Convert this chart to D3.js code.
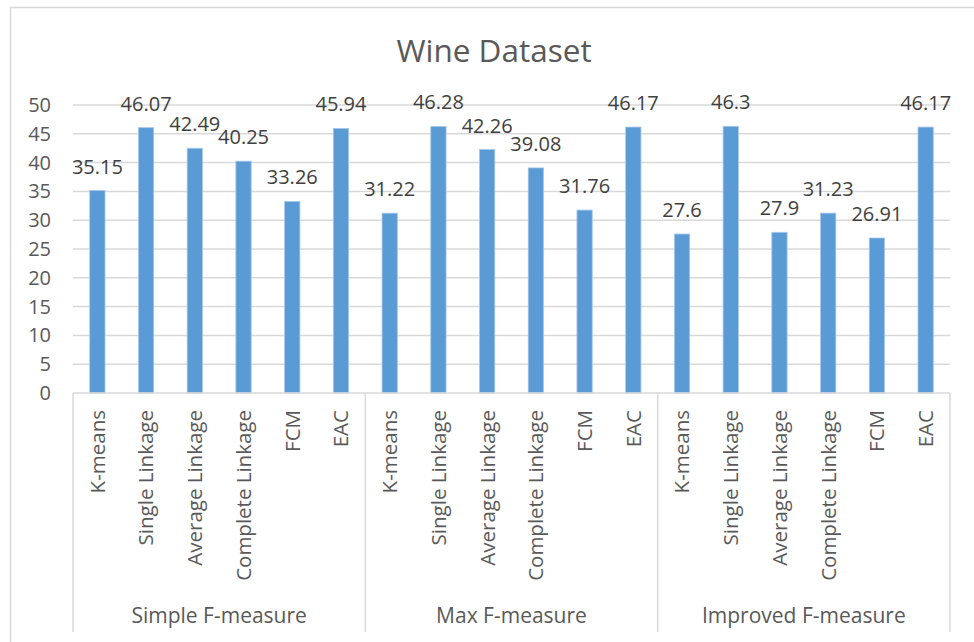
<!DOCTYPE html>
<html>
<head>
<meta charset="utf-8">
<script src="https://cdn.jsdelivr.net/npm/d3@7"></script>
<style>
  body { margin: 0; background: #fff; }
  text { font-family: "Open Sans", "Noto Sans", sans-serif; }
</style>
</head>
<body>
<div id="chart"></div>
<script>
// Wine Dataset - F-measure of clustering methods

var groups = ["Simple F-measure", "Max F-measure", "Improved F-measure"];
var methods = ["K-means", "Single Linkage", "Average Linkage", "Complete Linkage", "FCM", "EAC"];
var simpleF = [35.15, 46.07, 42.49, 40.25, 33.26, 45.94];
var maxF = [31.22, 46.28, 42.26, 39.08, 31.76, 46.17];
var improvedF = [27.6, 46.3, 27.9, 31.23, 26.91, 46.17];
var yTicks = [0, 5, 10, 15, 20, 25, 30, 35, 40, 45, 50];

var svgWidth = 974;
var svgHeight = 642;

var margin = { top: 105, right: 24, bottom: 249, left: 73 };
var width = svgWidth - margin.left - margin.right;
var height = svgHeight - margin.top - margin.bottom;

// flatten into one row per bar
var seriesByGroup = [simpleF, maxF, improvedF];
var data = [];
groups.forEach(function(g, gi) {
  methods.forEach(function(m, mi) {
    data.push({ key: gi + "-" + mi, group: g, method: m, value: seriesByGroup[gi][mi] });
  });
});

var svg = d3.select("#chart")
  .append("svg")
  .attr("width", svgWidth)
  .attr("height", svgHeight);

// chart border
svg.append("rect")
  .attr("x", 10.5)
  .attr("y", 7.5)
  .attr("width", 990)
  .attr("height", 660)
  .attr("fill", "none")
  .attr("stroke", "#d9d9d9")
  .attr("stroke-width", 1.5);

// title
svg.append("text")
  .attr("x", 494)
  .attr("y", 62)
  .attr("text-anchor", "middle")
  .attr("font-size", "31.5px")
  .attr("fill", "#595959")
  .text("Wine Dataset");

var chartGroup = svg.append("g")
  .attr("transform", `translate(${margin.left}, ${margin.top})`);

// scales
var xScale = d3.scaleBand()
  .domain(data.map(d => d.key))
  .range([0, width])
  .paddingInner(0.686)
  .paddingOuter(0.343);

var yScale = d3.scaleLinear()
  .domain([0, 50])
  .range([height, 0]);

var groupScale = d3.scaleBand()
  .domain(groups)
  .range([0, width]);

// gridlines
chartGroup.append("g")
  .selectAll("line")
  .data(yTicks.slice(1))
  .enter()
  .append("line")
  .attr("x1", 0)
  .attr("x2", width)
  .attr("y1", d => yScale(d))
  .attr("y2", d => yScale(d))
  .attr("stroke", "#d9d9d9")
  .attr("stroke-width", 1.5);

// y axis labels
var leftAxis = d3.axisLeft(yScale).tickValues(yTicks).tickSize(0).tickPadding(22);
var yAxisG = chartGroup.append("g").call(leftAxis);
yAxisG.select(".domain").remove();
yAxisG.selectAll("text")
  .attr("font-size", "20px")
  .attr("font-family", "Open Sans, sans-serif")
  .attr("fill", "#595959");

// bars
chartGroup.selectAll("rect.bar")
  .data(data)
  .enter()
  .append("rect")
  .attr("class", "bar")
  .attr("x", d => xScale(d.key))
  .attr("y", d => yScale(d.value))
  .attr("width", xScale.bandwidth())
  .attr("height", d => height - yScale(d.value))
  .attr("fill", "#5b9bd5")
  .attr("stroke", "#a8c8ea")
  .attr("stroke-width", 0.8);

// value labels
chartGroup.append("g").selectAll("text")
  .data(data)
  .enter()
  .append("text")
  .attr("x", d => xScale(d.key) + xScale.bandwidth() / 2)
  .attr("y", d => yScale(d.value) - 17)
  .attr("text-anchor", "middle")
  .attr("font-size", "20px")
  .attr("fill", "#404040")
  .text(d => d.value);

// category axis line
chartGroup.append("line")
  .attr("x1", 0)
  .attr("x2", width)
  .attr("y1", height)
  .attr("y2", height)
  .attr("stroke", "#d9d9d9")
  .attr("stroke-width", 1.5);

// group separators
var sepX = groups.map(g => groupScale(g)).concat([width]);
chartGroup.append("g").selectAll("line")
  .data(sepX)
  .enter()
  .append("line")
  .attr("x1", d => d)
  .attr("x2", d => d)
  .attr("y1", height)
  .attr("y2", height + 239)
  .attr("stroke", "#d9d9d9")
  .attr("stroke-width", 1.5);

// method labels (rotated)
chartGroup.append("g").selectAll("text")
  .data(data)
  .enter()
  .append("text")
  .attr("transform", d => `translate(${xScale(d.key) + xScale.bandwidth() / 2}, ${height + 17}) rotate(-90)`)
  .attr("dy", "0.36em")
  .attr("text-anchor", "end")
  .attr("font-size", "20.5px")
  .attr("fill", "#595959")
  .text(d => d.method);

// group labels
chartGroup.append("g").selectAll("text")
  .data(groups)
  .enter()
  .append("text")
  .attr("x", d => groupScale(d) + groupScale.bandwidth() / 2)
  .attr("y", height + 230)
  .attr("text-anchor", "middle")
  .attr("font-size", "21px")
  .attr("fill", "#595959")
  .text(d => d);
</script>
</body>
</html>
